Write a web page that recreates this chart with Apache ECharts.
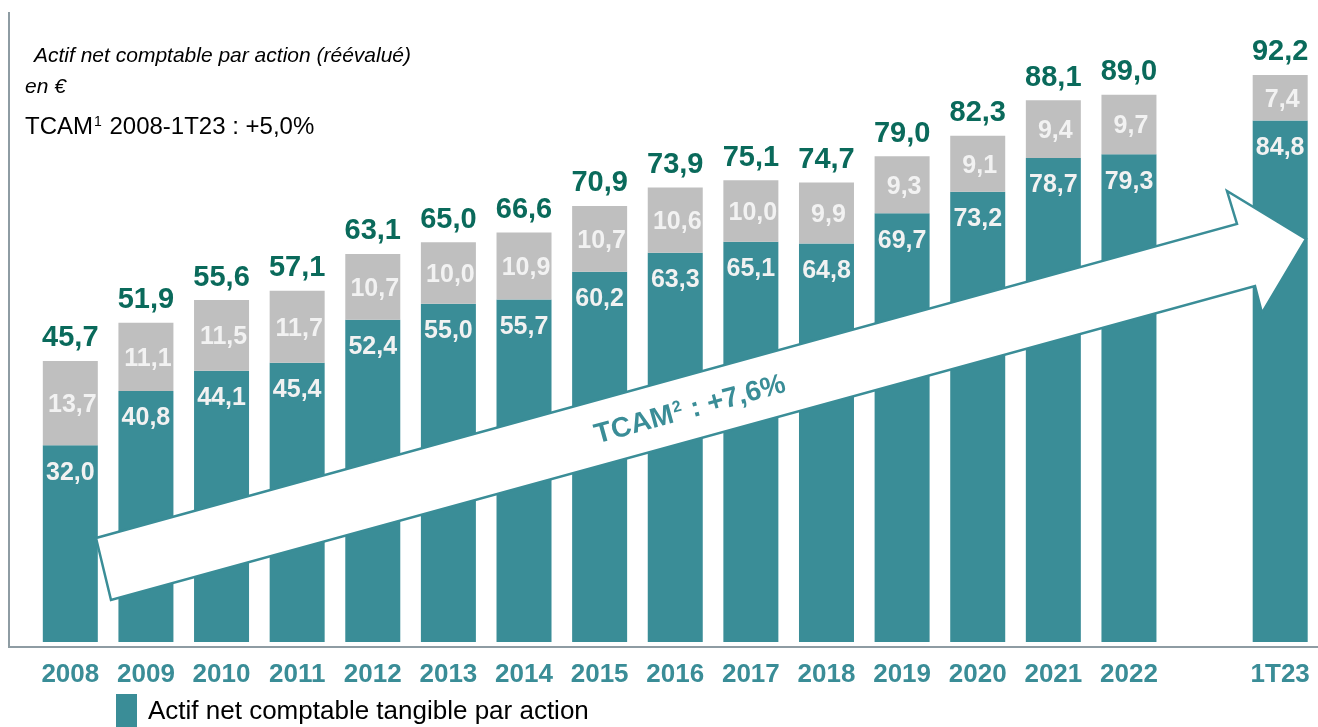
<!DOCTYPE html>
<html>
<head>
<meta charset="utf-8">
<script src="https://cdn.jsdelivr.net/npm/echarts@6/dist/echarts.min.js"></script>
<style>
  html, body { margin: 0; padding: 0; background: #fff; }
  #main { width: 1318px; height: 727px; }
</style>
</head>
<body>
<div id="main"></div>
<script>
// data
var categories = ['2008', '2009', '2010', '2011', '2012', '2013', '2014', '2015', '2016', '2017', '2018', '2019', '2020', '2021', '2022', '', '1T23'];
var tangible = [32.0, 40.8, 44.1, 45.4, 52.4, 55.0, 55.7, 60.2, 63.3, 65.1, 64.8, 69.7, 73.2, 78.7, 79.3, null, 84.8];
var intangible = [13.7, 11.1, 11.5, 11.7, 10.7, 10.0, 10.9, 10.7, 10.6, 10.0, 9.9, 9.3, 9.1, 9.4, 9.7, null, 7.4];
var totals = [45.7, 51.9, 55.6, 57.1, 63.1, 65.0, 66.6, 70.9, 73.9, 75.1, 74.7, 79.0, 82.3, 88.1, 89.0, null, 92.2];

var TEAL = '#3A8D97';
var GREY = '#BFBFBF';
var DARK = '#0A6A5B';
var FONT = "'Liberation Sans', Arial, sans-serif";

function fr(v) {
    return v == null ? '' : v.toFixed(1).replace('.', ',');
}

var myChart = echarts.init(document.getElementById('main'));
myChart.setOption({
    animation: false,
    grid: { left: 32.5, right: -7, top: 27, bottom: 85 },
    legend: {
        data: ['Actif net comptable tangible par action'],
        left: 116,
        top: 694,
        padding: 0,
        icon: 'rect',
        itemWidth: 21,
        itemHeight: 36,
        textStyle: { fontSize: 26, color: '#000', fontFamily: FONT, padding: [0, 0, 0, 6] }
    },
    xAxis: {
        type: 'category',
        data: categories,
        axisLine: { show: false },
        axisTick: { show: false },
        axisLabel: {
            interval: 0,
            margin: 20,
            color: TEAL,
            fontSize: 26,
            fontWeight: 'bold',
            fontFamily: FONT
        }
    },
    yAxis: {
        type: 'value',
        min: 0,
        max: 100,
        show: false,
        splitLine: { show: false }
    },
    series: [
        {
            name: 'Actif net comptable tangible par action',
            type: 'bar',
            stack: 'anc',
            barWidth: 55,
            itemStyle: { color: TEAL },
            label: {
                show: true,
                position: 'insideTop',
                distance: 15,
                color: '#F2F2F2',
                fontSize: 25,
                fontWeight: 'bold',
                fontFamily: FONT,
                formatter: function (p) { return fr(p.value); }
            },
            data: tangible
        },
        {
            name: 'Incorporels',
            type: 'bar',
            stack: 'anc',
            barWidth: 55,
            itemStyle: { color: GREY },
            label: {
                show: true,
                position: 'inside',
                offset: [2, 2],
                color: '#F2F2F2',
                fontSize: 25,
                fontWeight: 'bold',
                fontFamily: FONT,
                formatter: function (p) { return fr(p.value); }
            },
            data: intangible
        },
        {
            name: 'Total',
            type: 'bar',
            stack: 'anc',
            barWidth: 55,
            itemStyle: { color: 'transparent' },
            label: {
                show: true,
                position: 'top',
                distance: 8,
                color: DARK,
                fontSize: 29,
                fontWeight: 'bold',
                fontFamily: FONT,
                formatter: function (p) { return fr(totals[p.dataIndex]); }
            },
            data: totals.map(function (t) { return t == null ? null : 0; })
        }
    ],
    graphic: [
        // frame lines
        { type: 'line', z: 50, shape: { x1: 9, y1: 12, x2: 9, y2: 647 }, style: { stroke: '#8E9CA3', lineWidth: 2 } },
        { type: 'line', z: 50, shape: { x1: 8, y1: 647, x2: 1318, y2: 647 }, style: { stroke: '#8E9CA3', lineWidth: 2 } },
        // headings
        { type: 'text', z: 50, left: 34, top: 46, style: { text: 'Actif net comptable par action (réévalué)', font: 'italic 21px ' + FONT, fill: '#000' } },
        { type: 'text', z: 50, left: 25, top: 77, style: { text: 'en €', font: 'italic 21px ' + FONT, fill: '#000' } },
        {
            type: 'text', z: 50, left: 25, top: 115,
            style: {
                text: '{a|TCAM}{s|1}{a| 2008-1T23 : +5,0%}',
                rich: {
                    a: { fontSize: 24, fontFamily: FONT, fill: '#000', verticalAlign: 'bottom' },
                    s: { fontSize: 14, fontFamily: FONT, fill: '#000', verticalAlign: 'top', padding: [0, 1, 10, 1] }
                }
            }
        },
        // growth arrow
        {
            type: 'polygon', z: 60,
            shape: { points: [[96, 538], [1237, 224], [1227, 191], [1306, 239], [1262, 313], [1255, 286], [111, 600]] },
            style: { fill: '#fff', stroke: TEAL, lineWidth: 2.5 }
        },
        {
            type: 'text', z: 61, x: 690, y: 410, rotation: 0.268,
            style: {
                text: '{a|TCAM}{s|2}{a| : +7,6%}',
                align: 'center',
                verticalAlign: 'middle',
                rich: {
                    a: { fontSize: 28, fontWeight: 'bold', fontFamily: FONT, fill: TEAL },
                    s: { fontSize: 16, fontWeight: 'bold', fontFamily: FONT, fill: TEAL, padding: [0, 1, 12, 1] }
                }
            }
        }
    ]
}, true);
</script>
</body>
</html>
